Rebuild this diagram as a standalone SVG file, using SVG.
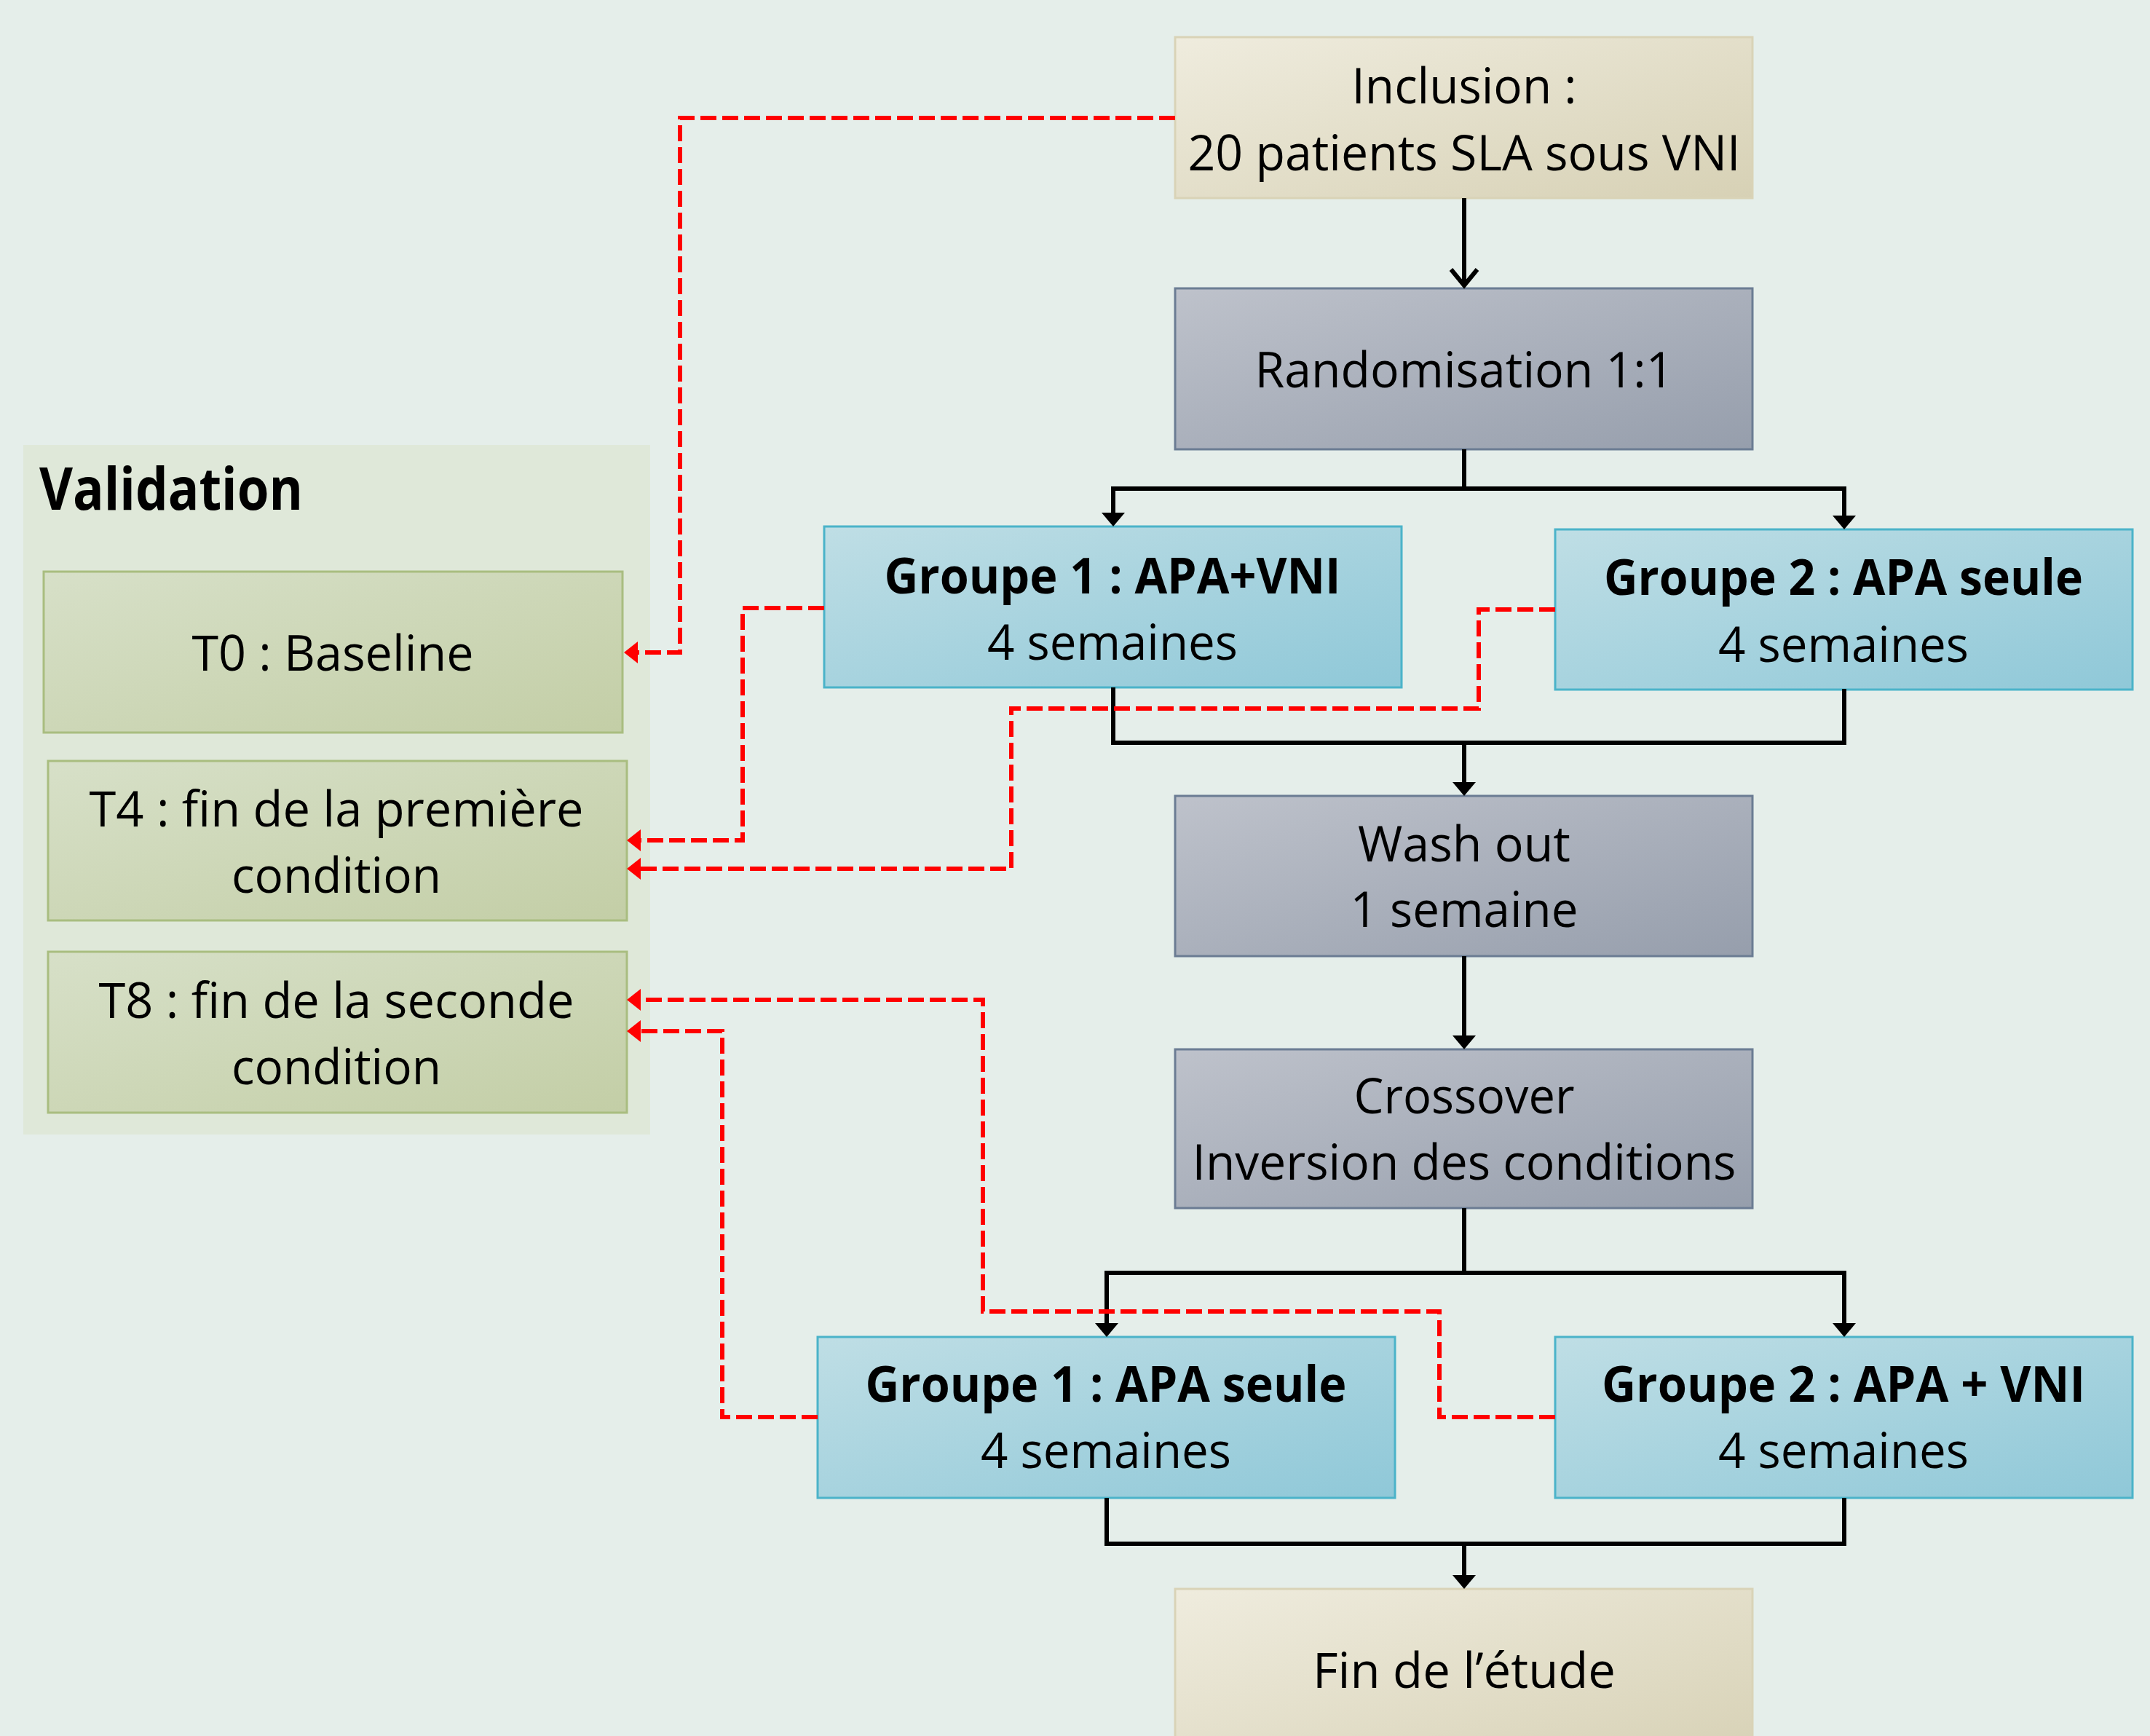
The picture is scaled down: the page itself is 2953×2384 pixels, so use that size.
<svg xmlns="http://www.w3.org/2000/svg" width="2953" height="2384" viewBox="0 0 2953 2384">
<defs>
<linearGradient id="gTan" x1="0" y1="0" x2="1" y2="1"><stop offset="0" stop-color="#EFECDE"/><stop offset="1" stop-color="#D7D1B5"/></linearGradient>
<linearGradient id="gGray" x1="0" y1="0" x2="1" y2="1"><stop offset="0" stop-color="#BEC2CB"/><stop offset="1" stop-color="#969EAC"/></linearGradient>
<linearGradient id="gBlue" x1="0" y1="0" x2="1" y2="1"><stop offset="0" stop-color="#BFDEE5"/><stop offset="1" stop-color="#8FC8D8"/></linearGradient>
<linearGradient id="gGreen" x1="0" y1="0" x2="1" y2="1"><stop offset="0" stop-color="#D7E0C8"/><stop offset="1" stop-color="#C3CEA6"/></linearGradient>
<marker id="ab" markerUnits="userSpaceOnUse" markerWidth="20" markerHeight="34" refX="8" refY="16" orient="auto"><path d="M0,0 L19,16 L0,32 z" fill="#000"/></marker>
<marker id="ar" markerUnits="userSpaceOnUse" markerWidth="20" markerHeight="32" refX="8" refY="15" orient="auto"><path d="M0,0 L19,15 L0,30 z" fill="#FF0000"/></marker>
<marker id="av" markerUnits="userSpaceOnUse" markerWidth="34" markerHeight="44" refX="24" refY="20" orient="auto" overflow="visible"><path d="M2,2 L24,20 L2,38" fill="none" stroke="#000" stroke-width="6"/></marker>
</defs>
<style>
text{font-family:"Open Sans","Liberation Sans",sans-serif;font-size:68px;fill:#000;text-anchor:middle}
.b{font-weight:bold}
.tan{fill:url(#gTan);stroke:#D9D3B7;stroke-width:3}
.gray{fill:url(#gGray);stroke:#6B7C93;stroke-width:3}
.blue{fill:url(#gBlue);stroke:#4BB3C9;stroke-width:3}
.green{fill:url(#gGreen);stroke:#A9BD80;stroke-width:3}
.k{fill:none;stroke:#000;stroke-width:6;stroke-linejoin:miter}
.r{fill:none;stroke:#FF0000;stroke-width:6;stroke-dasharray:22 8}
</style>
<rect x="0" y="0" width="2953" height="2384" fill="#E5EEEA"/>

<g id="validation-panel">
<rect x="32" y="611" width="861" height="947" fill="#DFE8D9"/>
<text class="b" x="54" y="700" style="text-anchor:start;font-size:80px" textLength="362" lengthAdjust="spacingAndGlyphs">Validation</text>
</g>
<g id="t0">
<rect class="green" x="60" y="785" width="795" height="221"/>
<text x="457" y="921" textLength="387" lengthAdjust="spacingAndGlyphs">T0 : Baseline</text>
</g>
<g id="t4">
<rect class="green" x="66" y="1045" width="795" height="219"/>
<text x="462" y="1135" textLength="679" lengthAdjust="spacingAndGlyphs">T4 : fin de la première</text>
<text x="462" y="1226" textLength="288" lengthAdjust="spacingAndGlyphs">condition</text>
</g>
<g id="t8">
<rect class="green" x="66" y="1307" width="795" height="221"/>
<text x="462" y="1398" textLength="653" lengthAdjust="spacingAndGlyphs">T8 : fin de la seconde</text>
<text x="462" y="1489" textLength="288" lengthAdjust="spacingAndGlyphs">condition</text>
</g>

<g id="inclusion">
<rect class="tan" x="1614" y="51" width="793" height="221"/>
<text x="2011" y="142" textLength="309" lengthAdjust="spacingAndGlyphs">Inclusion :</text>
<text x="2011" y="234" textLength="759" lengthAdjust="spacingAndGlyphs">20 patients SLA sous VNI</text>
</g>
<g id="randomisation">
<rect class="gray" x="1614" y="396" width="793" height="221"/>
<text x="2011" y="532" textLength="575" lengthAdjust="spacingAndGlyphs">Randomisation 1:1</text>
</g>
<g id="groupe1-apa-vni">
<rect class="blue" x="1132" y="723" width="793" height="221"/>
<text class="b" x="1528" y="815" textLength="627" lengthAdjust="spacingAndGlyphs">Groupe 1 : APA+VNI</text>
<text x="1528" y="906" textLength="344" lengthAdjust="spacingAndGlyphs">4 semaines</text>
</g>
<g id="groupe2-apa-seule">
<rect class="blue" x="2136" y="727" width="793" height="220"/>
<text class="b" x="2532" y="817" textLength="658" lengthAdjust="spacingAndGlyphs">Groupe 2 : APA seule</text>
<text x="2532" y="909" textLength="344" lengthAdjust="spacingAndGlyphs">4 semaines</text>
</g>
<g id="wash-out">
<rect class="gray" x="1614" y="1093" width="793" height="220"/>
<text x="2011" y="1183" textLength="292" lengthAdjust="spacingAndGlyphs">Wash out</text>
<text x="2011" y="1273" textLength="313" lengthAdjust="spacingAndGlyphs">1 semaine</text>
</g>
<g id="crossover">
<rect class="gray" x="1614" y="1441" width="793" height="218"/>
<text x="2011" y="1529" textLength="303" lengthAdjust="spacingAndGlyphs">Crossover</text>
<text x="2011" y="1620" textLength="747" lengthAdjust="spacingAndGlyphs">Inversion des conditions</text>
</g>
<g id="groupe1-apa-seule">
<rect class="blue" x="1123" y="1836" width="793" height="221"/>
<text class="b" x="1519" y="1925" textLength="661" lengthAdjust="spacingAndGlyphs">Groupe 1 : APA seule</text>
<text x="1519" y="2016" textLength="344" lengthAdjust="spacingAndGlyphs">4 semaines</text>
</g>
<g id="groupe2-apa-vni">
<rect class="blue" x="2136" y="1836" width="793" height="221"/>
<text class="b" x="2532" y="1925" textLength="664" lengthAdjust="spacingAndGlyphs">Groupe 2 : APA + VNI</text>
<text x="2532" y="2016" textLength="344" lengthAdjust="spacingAndGlyphs">4 semaines</text>
</g>
<g id="fin">
<rect class="tan" x="1614" y="2182" width="793" height="240"/>
<text x="2011" y="2318" textLength="416" lengthAdjust="spacingAndGlyphs">Fin de l’étude</text>
</g>

<g id="connectors">
<path class="k" d="M2011,272 V392" marker-end="url(#av)"/>
<path class="k" d="M2011,617 V671"/>
<path class="k" d="M2011,671 H1529 V712" marker-end="url(#ab)"/>
<path class="k" d="M2011,671 H2533 V716" marker-end="url(#ab)"/>
<path class="k" d="M1529,944 V1020 H2533 V946"/>
<path class="k" d="M2011,1020 V1082" marker-end="url(#ab)"/>
<path class="k" d="M2011,1313 V1430" marker-end="url(#ab)"/>
<path class="k" d="M2011,1659 V1748"/>
<path class="k" d="M2011,1748 H1520 V1825" marker-end="url(#ab)"/>
<path class="k" d="M2011,1748 H2533 V1825" marker-end="url(#ab)"/>
<path class="k" d="M1520,2057 V2120 H2533 V2057"/>
<path class="k" d="M2011,2120 V2171" marker-end="url(#ab)"/>
<path class="r" d="M1614,162 H934 V896 H868" marker-end="url(#ar)"/>
<path class="r" d="M1132,835 H1020 V1154 H872" marker-end="url(#ar)"/>
<path class="r" d="M2136,837 H2031 V973 H1389 V1193 H872" marker-end="url(#ar)"/>
<path class="r" d="M2136,1946 H1977 V1801 H1350 V1373 H872" marker-end="url(#ar)"/>
<path class="r" d="M1123,1946 H992 V1416 H872" marker-end="url(#ar)"/>
</g>
</svg>
